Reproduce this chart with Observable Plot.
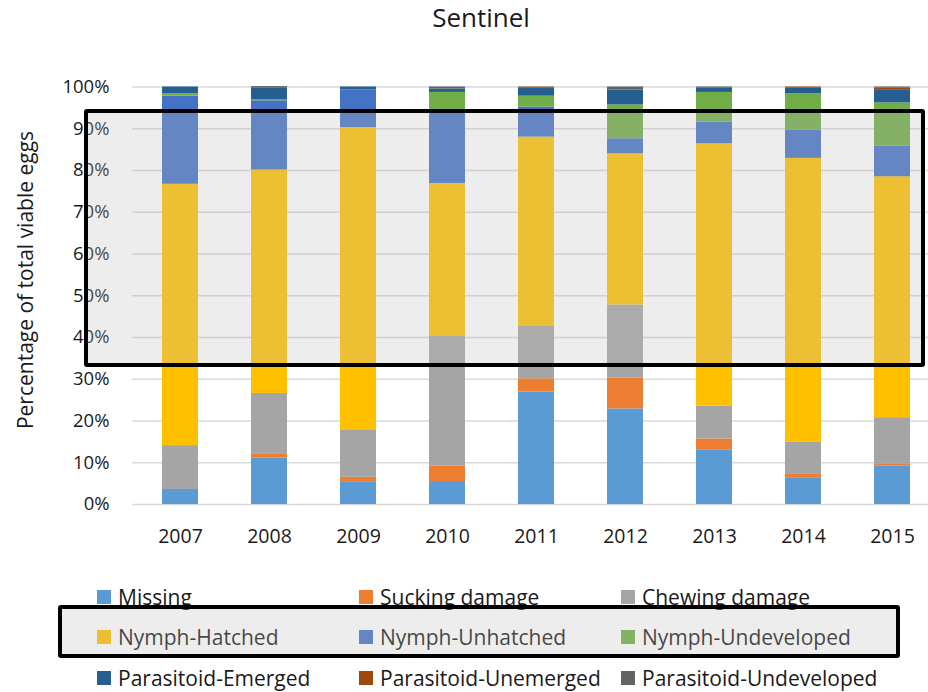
<!DOCTYPE html>
<html>
<head>
<meta charset="utf-8">
<script src="https://cdn.jsdelivr.net/npm/d3@7"></script>
<script src="https://cdn.jsdelivr.net/npm/@observablehq/plot@0.6"></script>
<style>
  html, body { margin: 0; padding: 0; background: #fff; }
  body { width: 928px; height: 692px; position: relative; overflow: hidden; font-family: "Open Sans", sans-serif; color: #333; }
  #title { position: absolute; left: 0; width: 962px; top: 17.5px; transform: translateY(-50%); text-align: center; font-size: 26px; line-height: 1.2; color: #1a1a1a; }
  #chart { position: absolute; left: 0; top: 0; }
  #ylabel { position: absolute; left: 25px; top: 280px; transform: translate(-50%, -50%) rotate(-90deg); white-space: nowrap; font-size: 21px; color: #1a1a1a; }
  .hl { position: absolute; box-sizing: border-box; border: 4.5px solid #000; border-radius: 3px; background: rgba(188,188,188,0.27); pointer-events: none; }
  .leg { position: absolute; display: flex; align-items: center; font-size: 21px; white-space: nowrap; color: #1a1a1a; }
  .leg span.sw { display: inline-block; width: 14px; height: 14px; margin-right: 7px; }
</style>
</head>
<body>
<div id="title">Sentinel</div>
<div id="chart"></div>
<div id="ylabel">Percentage of total viable eggs</div>
<div id="legend"></div>
<script>
const years = ["2007","2008","2009","2010","2011","2012","2013","2014","2015"];
const categories = ["Missing","Sucking damage","Chewing damage","Nymph-Hatched","Nymph-Unhatched","Nymph-Undeveloped","Parasitoid-Emerged","Parasitoid-Unemerged","Parasitoid-Undeveloped"];
const colors = ["#5B9BD5","#ED7D31","#A5A5A5","#FFC000","#4472C4","#70AD47","#255E91","#9E480E","#636363"];

const missing        = [3.6, 11.1, 5.3, 5.5, 26.9, 22.9, 13.1, 6.4, 9.2];
const sucking        = [0.0, 0.9, 1.2, 3.7, 3.2, 7.4, 2.6, 0.8, 0.4];
const chewing        = [10.5, 14.6, 11.4, 31.2, 12.7, 17.5, 7.9, 7.8, 11.2];
const hatched        = [62.6, 53.5, 72.4, 36.5, 45.2, 36.2, 62.8, 67.9, 57.7];
const unhatched      = [21.1, 16.6, 9.0, 17.4, 7.2, 3.6, 5.2, 6.7, 7.4];
const undeveloped    = [0.6, 0.2, 0.0, 4.4, 2.6, 8.1, 7.1, 8.8, 10.3];
const emerged        = [1.6, 2.9, 0.7, 0.8, 1.9, 3.6, 1.0, 1.3, 3.0];
const unemerged      = [0.0, 0.0, 0.0, 0.0, 0.3, 0.0, 0.0, 0.3, 0.6];
const parUndeveloped = [0.0, 0.3, 0.0, 0.5, 0.0, 0.7, 0.3, 0.0, 0.2];

const yTicks = [0,10,20,30,40,50,60,70,80,90,100];

const series = [missing, sucking, chewing, hatched, unhatched, undeveloped, emerged, unemerged, parUndeveloped];
const data = [];
categories.forEach((c, i) => years.forEach((yr, j) => data.push({year: yr, category: c, value: series[i][j]})));

const chart = Plot.plot({
  width: 928,
  height: 560,
  marginTop: 86.5,
  marginBottom: 56,
  marginLeft: 132,
  marginRight: 0,
  style: {fontFamily: "'Open Sans', sans-serif", fontSize: "19px", color: "#1a1a1a", background: "transparent"},
  x: {domain: years, range: [132, 939], paddingInner: 0.6, paddingOuter: 0.3, label: null},
  y: {domain: [0, 100], label: null},
  color: {domain: categories, range: colors},
  marks: [
    Plot.ruleY(yTicks, {stroke: "#d9d9d9", strokeWidth: 1.3}),
    Plot.barY(data, {x: "year", y: "value", fill: "category", order: categories, z: "category"}),
    Plot.axisY(yTicks, {tickSize: 0, tickPadding: 23, tickFormat: d => d + "%", label: null, fontSize: 18.5, fill: "#1a1a1a"}),
    Plot.axisX({tickSize: 0, tickPadding: 25, label: null, fontSize: 19.5, fill: "#1a1a1a"})
  ]
});
document.getElementById("chart").appendChild(chart);

// highlight boxes
function box(l, t, r, b) {
  const d = document.createElement("div");
  d.className = "hl";
  d.style.left = l + "px"; d.style.top = t + "px";
  d.style.width = (r - l) + "px"; d.style.height = (b - t) + "px";
  document.body.appendChild(d);
}

// legend
const legend = document.getElementById("legend");
const colX = [97, 359, 621];
const rowY = [597, 637, 678];
categories.forEach((c, i) => {
  const el = document.createElement("div");
  el.className = "leg";
  el.style.left = colX[i % 3] + "px";
  el.style.top = (rowY[Math.floor(i / 3)] - 14) + "px";
  el.style.height = "28px";
  el.innerHTML = `<span class="sw" style="background:${colors[i]}"></span>${c}`;
  legend.appendChild(el);
});

box(84, 109, 925, 367);
box(58, 605, 900, 658);
</script>
</body>
</html>
